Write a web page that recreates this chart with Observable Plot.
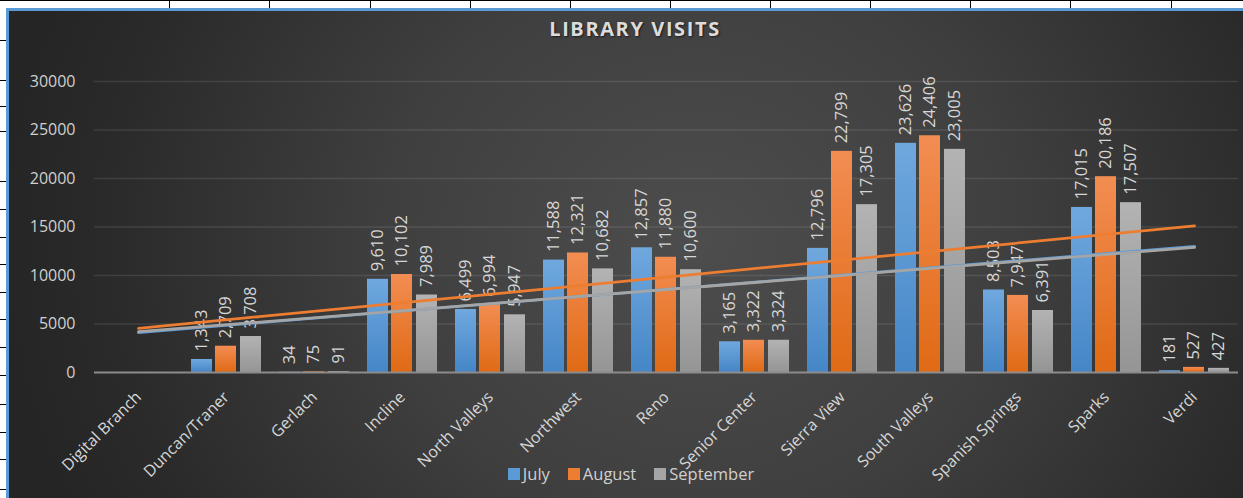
<!DOCTYPE html>
<html><head><meta charset="utf-8">
<script src="https://cdn.jsdelivr.net/npm/d3@7"></script>
<script src="https://cdn.jsdelivr.net/npm/@observablehq/plot@0.6"></script>
<style>
html,body{margin:0;padding:0;background:#fff;}
#page{position:relative;width:1243px;height:498px;overflow:hidden;font-family:"Open Sans",sans-serif;}
#frame{position:absolute;left:6px;top:8px;width:1300px;height:560px;border-left:3px solid #5b9bd5;border-top:3px solid #5b9bd5;
 background:radial-gradient(ellipse 700px 620px at 690px 230px,#4d4d4d 0%,#3f3f3f 45%,#2a2a2a 85%,#252525 100%);}
.gl{position:absolute;background:#000;}
#chart{position:absolute;left:0;top:0;}
#title{position:absolute;left:435px;width:400px;top:16px;text-align:center;font-weight:700;font-size:20px;letter-spacing:1.6px;color:#dcdcdc;line-height:26px;text-shadow:1px 1px 2px rgba(0,0,0,0.6);}
#legend{position:absolute;top:463px;left:0;width:1262px;display:flex;justify-content:center;gap:18px;font-size:16.5px;color:#d0d0d0;line-height:22px;}
#legend .it{display:flex;align-items:center;}
#legend .sw{width:12px;height:12px;margin-right:3px;}
</style></head>
<body>
<div id="page">
  <div id="frame"></div>
  <div id="chart"></div>
  <div id="title">LIBRARY VISITS</div>
  <div id="legend"></div>
</div>
<script>
const branches = ["Digital Branch","Duncan/Traner","Gerlach","Incline","North Valleys","Northwest","Reno","Senior Center","Sierra View","South Valleys","Spanish Springs","Sparks","Verdi"];
const july      = [null, 1343, 34, 9610, 6499, 11588, 12857, 3165, 12796, 23626, 8503, 17015, 181];
const august    = [null, 2709, 75, 10102, 6994, 12321, 11880, 3322, 22799, 24406, 7947, 20186, 527];
const september = [null, 3708, 91, 7989, 5947, 10682, 10600, 3324, 17305, 23005, 6391, 17507, 427];
const months = ["July","August","September"];
const colors = ["#5b9bd5","#ed7d31","#a5a5a5"];
const yTicks = [0,5000,10000,15000,20000,25000,30000];

// spreadsheet grid decoration
const page = document.getElementById("page");
function gl(l,t,w,h){const d=document.createElement("div");d.className="gl";Object.assign(d.style,{left:l+"px",top:t+"px",width:w+"px",height:h+"px"});page.insertBefore(d,page.firstChild);}
gl(0,0,1243,1);
[169,269,370,470,570,670,770,870,970,1070,1171].forEach(x=>gl(x,0,1,9));
[40,80,106,131,181,209,237,264,292,319,347,375,404,432,459,489].forEach(y=>gl(0,y,6,1));

const series = [july, august, september];
const rows = series.map((vals,k)=>branches.map((b,i)=>({branch:b, month:months[k], value:vals[i]})).filter(d=>d.value!=null));

// Excel-style linear trendline (least squares over the category index), extended across all categories
function trend(vals){
  const pts = vals.map((v,i)=>[i,v]).filter(p=>p[1]!=null);
  const mx = d3.mean(pts,p=>p[0]), my = d3.mean(pts,p=>p[1]);
  const s = d3.sum(pts,p=>(p[0]-mx)*(p[1]-my))/d3.sum(pts,p=>(p[0]-mx)**2);
  return [0, branches.length-1].map(i=>({branch:branches[i], value: my + s*(i-mx)}));
}
const trends = series.map(trend);

const insets = [[9,58],[33,34],[58,9]];
const dxs = [-24.5,-0.5,24.5];
const fmt = d3.format(",");

const marks = [
  Plot.ruleY(yTicks.filter(t=>t>0), {stroke:"#ffffff", strokeOpacity:0.1, strokeWidth:1.5}),
  ...rows.map((r,k)=>Plot.barY(r,{x:"branch", y:"value", fill:colors[k], insetLeft:insets[k][0], insetRight:insets[k][1]})),
  Plot.ruleY([0], {stroke:"#8c8c8c", strokeWidth:2}),
  ...rows.map((r,k)=>Plot.text(r,{x:"branch", y:"value", text:d=>fmt(d.value), rotate:-90, textAnchor:"start", lineAnchor:"middle", dx:dxs[k], dy:-8, fill:"#d6d6d6", fontSize:16.5})),
  ...trends.map((t,k)=>Plot.line(t,{x:"branch", y:"value", stroke:colors[k], strokeWidth:2.75})),
  Plot.axisY({ticks:yTicks, tickSize:0, tickPadding:19, tickFormat:d3.format("d"), fontSize:16, fill:"#d0d0d0"}),
  Plot.axisX({tickSize:0, tickPadding:22, tickRotate:-45, fontSize:16, fill:"#d6d6d6"})
];

const chart = Plot.plot({
  width:1243, height:498,
  marginLeft:94, marginRight:5, marginTop:81, marginBottom:126,
  x:{domain:branches, padding:0, label:null},
  y:{domain:[0,30000], label:null},
  style:{background:"transparent", fontFamily:"Open Sans, sans-serif", overflow:"visible"},
  marks
});
document.getElementById("chart").appendChild(chart);

// bar gradients
const svg = d3.select(chart);
const defs = svg.insert("defs",":first-child");
const grads = [["gJul","#70a8de","#4586c7"],["gAug","#f28d52","#e06a15"],["gSep","#b3b3b3","#959595"]];
grads.forEach(([id,a,b])=>{
  const g = defs.append("linearGradient").attr("id",id).attr("x1",0).attr("y1",0).attr("x2",0).attr("y2",1);
  g.append("stop").attr("offset","0%").attr("stop-color",a);
  g.append("stop").attr("offset","100%").attr("stop-color",b);
});
svg.selectAll('g[aria-label="bar"]').each(function(_,i){ d3.select(this).attr("fill", `url(#${grads[i][0]})`); });

// legend
const lg = document.getElementById("legend");
months.forEach((m,k)=>{
  const it=document.createElement("div"); it.className="it";
  const sw=document.createElement("div"); sw.className="sw"; sw.style.background=colors[k];
  const tx=document.createElement("span"); tx.textContent=m;
  it.appendChild(sw); it.appendChild(tx); lg.appendChild(it);
});
</script>
</body></html>
